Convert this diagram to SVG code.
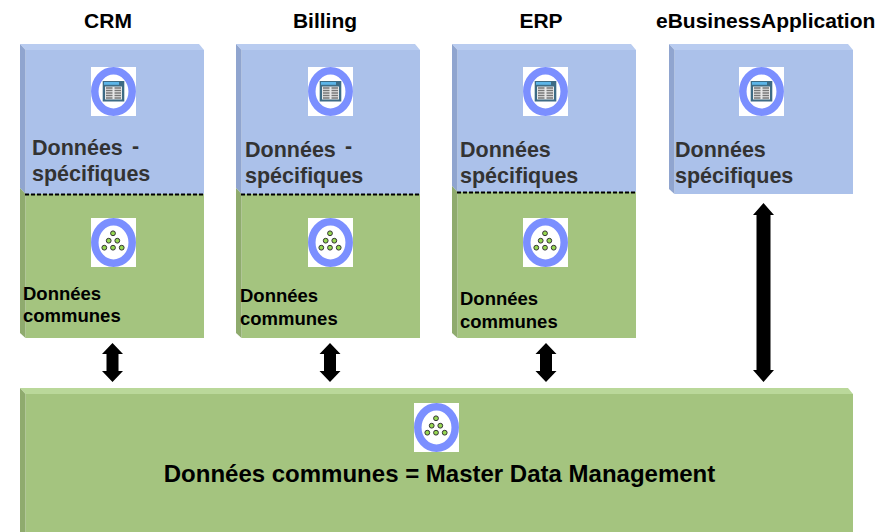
<svg xmlns="http://www.w3.org/2000/svg" width="888" height="532" viewBox="0 0 888 532">
<style>
text{font-family:"Liberation Sans",Arial,sans-serif;font-weight:bold}
.h{font-size:21px;fill:#000;text-anchor:middle}
.s{font-size:21.500px;fill:#333}
.c{font-size:18.500px;fill:#000}
.bf{fill:#abc1ea}.bt{fill:#b9ccf0}.bl{fill:#90a5cf}
.gf{fill:#a4c47f}.gt{fill:#bad89a}.gl{fill:#8fab6e}
.d{stroke:#000;stroke-width:2;stroke-dasharray:4 2;fill:none}
.ring{fill:none;stroke:#7b8fff;stroke-width:7.500}
.dot{fill:#96d850;stroke:#333;stroke-width:1}
</style>
<defs>
<g id="app"><rect x="0" y="0" width="45" height="49" fill="#fff"/><ellipse cx="22.500" cy="24.500" rx="18.700" ry="20.700" class="ring"/><rect x="11.700" y="14" width="21.600" height="20.500" fill="#3d6b85"/><rect x="13" y="15" width="15" height="2.800" fill="#5cb5e8"/><rect x="14" y="19.500" width="17" height="13" fill="#e8e8e8"/><path d="M15 21h6.500M15 23.500h6.500M15 26h6.500M15 28.500h6.500M15 31h6.500M23.500 21h6.500M23.500 23.500h6.500M23.500 26h6.500M23.500 28.500h6.500M23.500 31h6.500" stroke="#777" stroke-width="1.300"/></g>
<g id="data"><rect x="0" y="0" width="45" height="49" fill="#fff"/><ellipse cx="22.500" cy="24.500" rx="18.700" ry="20.700" class="ring"/><circle cx="22" cy="15.300" r="2.400" class="dot"/><circle cx="17.700" cy="22.700" r="2.400" class="dot"/><circle cx="26.300" cy="22.700" r="2.400" class="dot"/><circle cx="13.300" cy="29.700" r="2.400" class="dot"/><circle cx="22" cy="29.700" r="2.400" class="dot"/><circle cx="30.700" cy="29.700" r="2.400" class="dot"/></g>
<path id="short" d="M0 -19.500L10.500 -8.500L6 -8.500L6 8.500L10.500 8.500L0 19.500L-10.500 8.500L-6 8.500L-6 -8.500L-10.500 -8.500Z" fill="#000"/>
</defs>

<g id="node-crm">
<text class="h" x="108" y="28">CRM</text>
<rect class="bf" x="25.500" y="50" width="178.500" height="144"/>
<path class="bt" d="M20 44H199L204 50H25.500Z"/>
<path class="bl" d="M20 44L25.500 50V194L20 188Z"/>
<rect class="gf" x="25.500" y="194" width="178.500" height="144"/>
<path class="gl" d="M20 188L25.500 194V338L20 333Z"/>
<line class="d" x1="25" y1="194.500" x2="204" y2="194.500"/>
<use href="#app" x="91" y="67"/>
<use href="#data" x="91" y="218"/>
<text class="s" x="32" y="155">Données</text>
<text class="s" x="132" y="153">-</text>
<text class="s" x="32" y="181">spécifiques</text>
<text class="c" x="23" y="300">Données</text>
<text class="c" x="23" y="322">communes</text>
</g>

<g id="node-billing">
<text class="h" x="325" y="28">Billing</text>
<rect class="bf" x="241.500" y="50" width="178.500" height="144"/>
<path class="bt" d="M236 44H415L420 50H241.500Z"/>
<path class="bl" d="M236 44L241.500 50V194L236 188Z"/>
<rect class="gf" x="241.500" y="194" width="178.500" height="144"/>
<path class="gl" d="M236 188L241.500 194V338L236 333Z"/>
<line class="d" x1="241" y1="194.500" x2="420" y2="194.500"/>
<use href="#app" x="308" y="67"/>
<use href="#data" x="308" y="218"/>
<text class="s" x="245" y="157">Données</text>
<text class="s" x="345" y="153">-</text>
<text class="s" x="245" y="183">spécifiques</text>
<text class="c" x="240" y="302">Données</text>
<text class="c" x="240" y="325">communes</text>
</g>

<g id="node-erp">
<text class="h" x="541" y="28">ERP</text>
<rect class="bf" x="457.500" y="50" width="178.500" height="142"/>
<path class="bt" d="M452 44H631L636 50H457.500Z"/>
<path class="bl" d="M452 44L457.500 50V192L452 186Z"/>
<rect class="gf" x="457.500" y="192" width="178.500" height="146"/>
<path class="gl" d="M452 186L457.500 192V338L452 333Z"/>
<line class="d" x1="457" y1="192.500" x2="636" y2="192.500"/>
<use href="#app" x="523" y="67"/>
<use href="#data" x="523" y="218"/>
<text class="s" x="460" y="157">Données</text>
<text class="s" x="460" y="183">spécifiques</text>
<text class="c" x="460" y="305">Données</text>
<text class="c" x="460" y="328">communes</text>
</g>

<g id="node-ebusiness">
<text class="h" x="656" y="28" style="text-anchor:start">eBusiness</text>
<text class="h" x="761" y="28" style="text-anchor:start">Application</text>
<rect class="bf" x="674.500" y="50" width="178.500" height="144"/>
<path class="bt" d="M669 44H848L853 50H674.500Z"/>
<path class="bl" d="M669 44L674.500 50V194L669 189Z"/>
<use href="#app" x="739" y="67"/>
<text class="s" x="675" y="157">Données</text>
<text class="s" x="675" y="183">spécifiques</text>
</g>

<g id="node-mdm">
<rect class="gf" x="25.500" y="394" width="827.500" height="138"/>
<path class="gt" d="M20 388H848L853 394H25.500Z"/>
<path class="gl" d="M20 388L25.500 394V532H20Z"/>
<use href="#data" x="414" y="403"/>
<text x="439.500" y="482" text-anchor="middle" font-size="24" fill="#000">Données communes = Master Data Management</text>
</g>

<g id="connectors">
<use href="#short" x="112.500" y="362.500"/>
<use href="#short" x="330" y="362.500"/>
<use href="#short" x="546" y="362.500"/>
<path d="M763.500 203L774 215H770.500V370H774L763.500 382L753 370H756.500V215H753Z" fill="#000"/>
</g>
</svg>
